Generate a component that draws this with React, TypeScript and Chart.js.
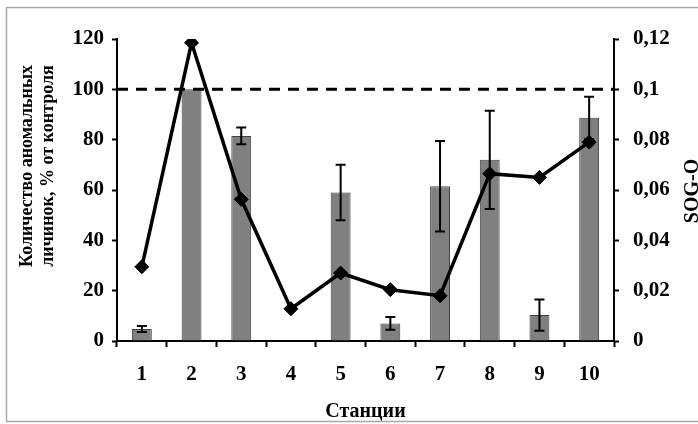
import React, { useEffect, useRef } from 'react';
import { Chart, registerables } from 'chart.js';

Chart.register(...registerables);

const stations = ['1', '2', '3', '4', '5', '6', '7', '8', '9', '10'];
const anomalousPct = [4.8, 100, 81.5, 0, 59, 7, 61.5, 72, 10.3, 88.7];
const anomalousErr = [1.2, 0, 3.3, 0, 11, 2.5, 18, 19.5, 6.2, 8.4];
const sogO = [0.0295, 0.1185, 0.0563, 0.0128, 0.027, 0.0204, 0.018, 0.0665, 0.065, 0.079];
const controlLevel = 100;
const leftTitleLines = ['Количество аномальных', 'личинок, % от контроля'];
const rightTitle = 'SOG-O';
const xTitle = 'Станции';

const SERIF = "'Liberation Serif', 'Times New Roman', serif";

const framePlugin = {
  id: 'frame',
  beforeDraw(chart: any) {
    const ctx = chart.ctx;
    ctx.save();
    ctx.fillStyle = '#fff';
    ctx.fillRect(0, 0, chart.width, chart.height);
    ctx.strokeStyle = '#a8a8a8';
    ctx.lineWidth = 1.5;
    ctx.beginPath();
    ctx.moveTo(chart.width + 5, 7.5);
    ctx.lineTo(6.5, 7.5);
    ctx.lineTo(6.5, 421.5);
    ctx.lineTo(chart.width + 5, 421.5);
    ctx.stroke();
    ctx.restore();
  },
};

const extrasPlugin = {
  id: 'extras',
  afterDatasetDraw(chart: any, args: any) {
    if (args.index !== 0) return;
    const ctx = chart.ctx;
    const y = chart.scales.y;
    const area = chart.chartArea;
    const meta = chart.getDatasetMeta(0);
    ctx.save();
    // error bars
    ctx.strokeStyle = '#000';
    ctx.lineWidth = 2;
    meta.data.forEach((bar: any, i: number) => {
      const e = anomalousErr[i];
      if (!e) return;
      const v = anomalousPct[i];
      const yt = y.getPixelForValue(v + e);
      const yb = y.getPixelForValue(v - e);
      const x = bar.x;
      ctx.beginPath();
      ctx.moveTo(x, yt);
      ctx.lineTo(x, yb);
      ctx.moveTo(x - 5, yt);
      ctx.lineTo(x + 5, yt);
      ctx.moveTo(x - 5, yb);
      ctx.lineTo(x + 5, yb);
      ctx.stroke();
    });
    // control dashed line
    const yc = y.getPixelForValue(controlLevel);
    ctx.setLineDash([11, 8]);
    ctx.lineWidth = 3;
    ctx.beginPath();
    ctx.moveTo(area.left, yc);
    ctx.lineTo(area.right, yc);
    ctx.stroke();
    ctx.restore();
  },
  afterDraw(chart: any) {
    const ctx = chart.ctx;
    ctx.save();
    ctx.fillStyle = '#000';
    ctx.font = `bold 18px ${SERIF}`;
    ctx.textAlign = 'center';
    ctx.textBaseline = 'alphabetic';
    const baselines = [32, 53];
    leftTitleLines.forEach((t, i) => {
      ctx.save();
      ctx.translate(baselines[i], 166);
      ctx.rotate(-Math.PI / 2);
      ctx.fillText(t, 0, 0);
      ctx.restore();
    });
    ctx.font = `bold 20px ${SERIF}`;
    ctx.save();
    ctx.translate(698, 191);
    ctx.rotate(-Math.PI / 2);
    ctx.fillText(rightTitle, 0, 0);
    ctx.restore();
    ctx.restore();
  },
};

export default function App() {
  const ref = useRef<HTMLCanvasElement | null>(null);
  useEffect(() => {
    if (!ref.current) return;
    const tickFont = { family: SERIF, size: 21, weight: 'bold' as const };
    const chart = new Chart(ref.current, {
      type: 'bar',
      data: {
        labels: stations,
        datasets: [
          {
            type: 'bar',
            data: anomalousPct,
            yAxisID: 'y',
            backgroundColor: '#808080',
            borderColor: '#404040',
            borderWidth: 1,
            barPercentage: 0.4,
            categoryPercentage: 1,
            order: 2,
          } as any,
          {
            type: 'line',
            data: sogO,
            yAxisID: 'y1',
            borderColor: '#000',
            backgroundColor: '#000',
            borderWidth: 3.5,
            pointStyle: 'rectRot',
            pointRadius: 7,
            pointBorderWidth: 1,
            tension: 0,
            order: 1,
          } as any,
        ],
      },
      options: {
        responsive: false,
        animation: false,
        devicePixelRatio: 1,
        layout: { padding: { top: 39, left: 0, right: 0, bottom: 0 } },
        plugins: {
          legend: { display: false },
          tooltip: { enabled: false },
        },
        scales: {
          x: {
            type: 'category',
            offset: true,
            grid: {
              offset: true,
              drawOnChartArea: false,
              drawTicks: true,
              tickLength: 6,
              tickColor: '#000',
              tickWidth: 2,
            },
            border: { display: true, color: '#000', width: 2 },
            ticks: { color: '#000', font: tickFont, padding: 15, maxRotation: 0 },
            title: {
              display: true,
              text: xTitle,
              color: '#000',
              font: { family: SERIF, size: 20, weight: 'bold' },
              padding: { top: 0, bottom: 0 },
            },
            afterFit: (s: any) => {
              s.height = 83;
            },
          },
          y: {
            position: 'left',
            min: 0,
            max: 120,
            ticks: { stepSize: 20, color: '#000', font: tickFont, padding: 8 },
            grid: {
              drawOnChartArea: false,
              drawTicks: true,
              tickLength: 5,
              tickColor: '#000',
              tickWidth: 2,
            },
            border: { display: true, color: '#000', width: 2 },
            afterFit: (s: any) => {
              s.width = 117;
            },
          },
          y1: {
            position: 'right',
            min: 0,
            max: 0.12,
            ticks: {
              stepSize: 0.02,
              color: '#000',
              font: tickFont,
              padding: 14,
              callback: (v: any) => {
                const n = Number(v);
                if (n === 0) return '0';
                return String(parseFloat(n.toFixed(2))).replace('.', ',');
              },
            },
            grid: {
              drawOnChartArea: false,
              drawTicks: true,
              tickLength: 5,
              tickColor: '#000',
              tickWidth: 2,
            },
            border: { display: true, color: '#000', width: 2 },
            afterFit: (s: any) => {
              s.width = 84;
            },
          },
        },
      },
      plugins: [framePlugin, extrasPlugin],
    } as any);
    return () => chart.destroy();
  }, []);
  return (
    <div style={{ position: 'fixed', left: 0, top: 0, width: 698, height: 424, background: '#fff' }}>
      <canvas ref={ref} width={698} height={424} style={{ display: 'block' }} />
    </div>
  );
}
